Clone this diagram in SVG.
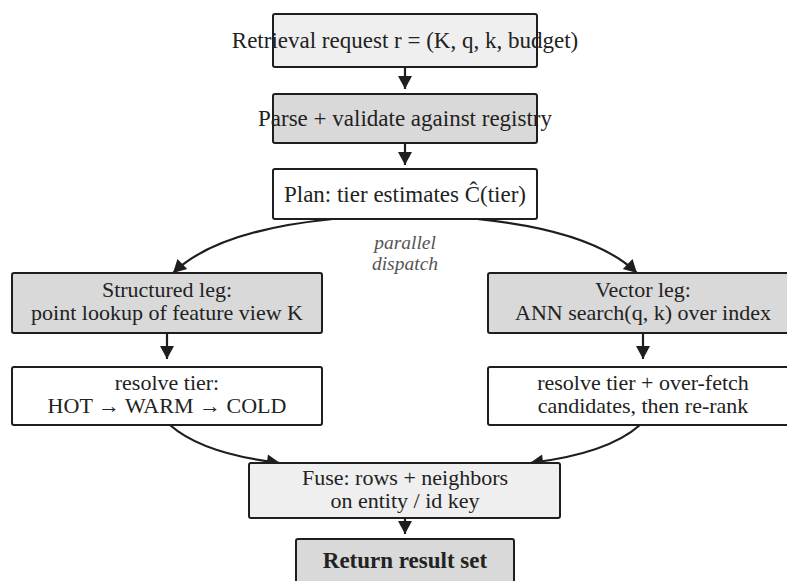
<svg xmlns="http://www.w3.org/2000/svg" width="787" height="581" viewBox="0 0 787 581">
<style>
.box{stroke:#1e1e1e;stroke-width:2}
.l{fill:#efefef}.d{fill:#d9d9d9}.w{fill:#ffffff}
text{font-family:"Liberation Serif","Times New Roman",serif;font-size:22px;fill:#222;text-anchor:middle}
.big{font-size:23px}
.b{font-weight:bold;font-size:23px}
.lab{font-style:italic;fill:#555;font-size:19.5px}
.c{fill:none;stroke:#1e1e1e;stroke-width:2.2}
</style>
<defs>
<marker id="ah" markerUnits="userSpaceOnUse" markerWidth="16" markerHeight="16" viewBox="0 0 16 16" refX="14" refY="8" orient="auto">
<path d="M1,1 L14,8 L1,15 Z" fill="#1e1e1e"/>
</marker>
</defs>
<rect width="787" height="581" fill="#ffffff"/>
<g id="connectors">
<path class="c" d="M405,67 V89" marker-end="url(#ah)"/>
<path class="c" d="M405,143 V165" marker-end="url(#ah)"/>
<path class="c" d="M333,219 C262,226 205,242 173,273" marker-end="url(#ah)"/>
<path class="c" d="M477,219 C548,226 605,242 637,273" marker-end="url(#ah)"/>
<path class="c" d="M167,333 V359" marker-end="url(#ah)"/>
<path class="c" d="M643,333 V359" marker-end="url(#ah)"/>
<path class="c" d="M170,425 C196,448 238,458 280,463" marker-end="url(#ah)"/>
<path class="c" d="M640,425 C614,448 572,458 530,463" marker-end="url(#ah)"/>
<path class="c" d="M405,518 V534" marker-end="url(#ah)"/>
</g>
<g id="request">
<rect class="box l" x="273" y="14" width="264" height="53" rx="2"/>
<text class="big" x="405" y="48">Retrieval request r = (K, q, k, budget)</text>
</g>
<g id="parse">
<rect class="box d" x="273" y="94" width="264" height="49" rx="2"/>
<text class="big" x="405" y="126">Parse + validate against registry</text>
</g>
<g id="plan">
<rect class="box w" x="273" y="169" width="264" height="50" rx="2"/>
<text class="big" x="405" y="202">Plan: tier estimates Ĉ(tier)</text>
</g>
<g id="dispatch-label">
<text class="lab" x="405" y="249">parallel</text>
<text class="lab" x="405" y="270">dispatch</text>
</g>
<g id="structured">
<rect class="box d" x="12" y="273" width="310" height="60" rx="2"/>
<text x="167" y="297">Structured leg:</text>
<text x="167" y="320">point lookup of feature view K</text>
</g>
<g id="vector">
<rect class="box d" x="488" y="273" width="310" height="60" rx="2"/>
<text x="643" y="297">Vector leg:</text>
<text x="643" y="320">ANN search(q, k) over index</text>
</g>
<g id="resolve-left">
<rect class="box w" x="12" y="367" width="310" height="58" rx="2"/>
<text x="167" y="390">resolve tier:</text>
<text x="167" y="413">HOT → WARM → COLD</text>
</g>
<g id="resolve-right">
<rect class="box w" x="488" y="367" width="310" height="58" rx="2"/>
<text x="643" y="390">resolve tier + over-fetch</text>
<text x="643" y="413">candidates, then re-rank</text>
</g>
<g id="fuse">
<rect class="box l" x="249" y="463" width="311" height="55" rx="2"/>
<text x="405" y="485">Fuse: rows + neighbors</text>
<text x="405" y="508">on entity / id key</text>
</g>
<g id="return">
<rect class="box d" x="296" y="539" width="218" height="60" rx="2"/>
<text class="b" x="405" y="568">Return result set</text>
</g>
</svg>
